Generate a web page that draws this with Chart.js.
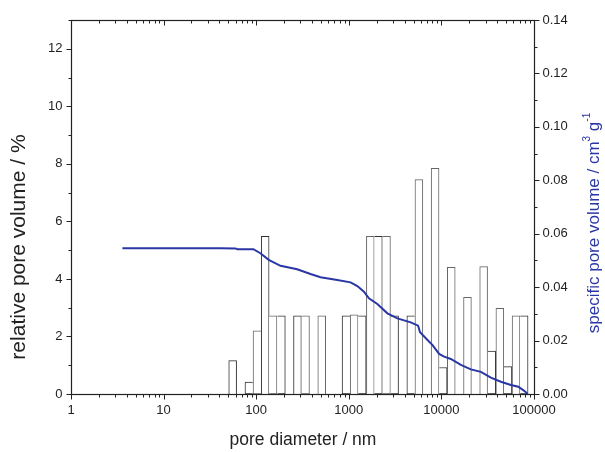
<!DOCTYPE html>
<html>
<head>
<meta charset="utf-8">
<script src="https://cdn.jsdelivr.net/npm/chart.js@4.4.1/dist/chart.umd.min.js"></script>
<style>
  html, body { margin: 0; padding: 0; background: #fff; }
  #wrap { width: 605px; height: 452px; }
</style>
</head>
<body>
<div id="wrap"><canvas id="poreChart" width="605" height="452"></canvas></div>
<script>
// histogram: bin centres (nm) and relative pore volume (%)
const binDiameter = [55.7, 68.2, 83.4, 102, 125, 152, 187, 228, 279, 341, 417, 510, 624, 763, 933,
  1142, 1396, 1708, 2089, 2554, 3124, 3820, 4672, 5714, 6988, 8547, 10450, 12780, 15630, 19120,
  23380, 28590, 34970, 42770, 52310, 63970, 78240];
const binPercent = [1.16, 0, 0.41, 2.20, 5.48, 2.72, 2.72, 0, 2.72, 2.72, 0, 2.72, 0, 0, 2.72,
  2.75, 2.72, 5.48, 5.48, 5.48, 2.72, 0, 2.72, 7.45, 0, 7.84, 0.92, 4.40, 0, 3.36,
  0, 4.43, 1.49, 2.98, 0.95, 2.72, 2.72];

// cumulative curve: diameter (nm) and specific pore volume (cm3/g)
const cumDiameter = [3.59, 41, 59.6, 62.6, 93.3, 111, 136.5, 183, 277, 386, 495, 751, 1045, 1236,
  1457, 1650, 2034, 2611, 3350, 4665, 5600, 5880, 7080, 8020, 9450, 10700, 12640, 16230, 20800,
  26700, 34200, 43900, 56300, 67600, 78500, 85500];
const cumVolume = [0.0546, 0.0546, 0.0545, 0.0542, 0.0542, 0.0527, 0.0502, 0.0480, 0.0467, 0.0449,
  0.0437, 0.0427, 0.0418, 0.0404, 0.0383, 0.0358, 0.0337, 0.0302, 0.0283, 0.0268, 0.0256, 0.0231,
  0.0202, 0.0183, 0.0150, 0.0140, 0.0131, 0.0109, 0.0092, 0.0083, 0.0061, 0.0046, 0.0034, 0.0027,
  0.0012, 0.0];

// tick labels
const xTickLabels = [1, 10, 100, 1000, 10000, 100000];
const yTickLabels = [0, 2, 4, 6, 8, 10, 12];
const y2TickLabels = [0, 0.02, 0.04, 0.06, 0.08, 0.10, 0.12, 0.14];

const INK = '#222';
const BLUE = '#2a36a4';
const FONT = '"Liberation Sans", Arial, sans-serif';

// shared edges between neighbouring bars get drawn only once
function skipSide(i) {
  const v = binPercent[i];
  const prev = i > 0 ? binPercent[i - 1] : 0;
  const next = i < binPercent.length - 1 ? binPercent[i + 1] : 0;
  if (prev > 0 && prev >= v) return 'left';
  if (next > v) return 'right';
  return 'start';
}

function line(ctx, x1, y1, x2, y2) {
  ctx.beginPath();
  ctx.moveTo(x1, y1);
  ctx.lineTo(x2, y2);
  ctx.stroke();
}

const axesPlugin = {
  id: 'originAxes',
  afterDraw(chart) {
    const { ctx, chartArea: a, scales: { x, y, y2 } } = chart;
    const L = Math.round(a.left) + 0.5, R = Math.round(a.right) + 0.5;
    const T = Math.round(a.top) + 0.5, B = Math.round(a.bottom) + 0.5;
    ctx.save();
    ctx.strokeStyle = INK;
    ctx.lineWidth = 1.2;
    ctx.strokeRect(L, T, R - L, B - T);

    // x ticks: bottom outward, top inward
    ctx.lineWidth = 1;
    for (let d = 0; d < xTickLabels.length; d++) {
      const dec = xTickLabels[d];
      for (let m = 1; m <= 9; m++) {
        const v = dec * m;
        if (v > 100000) break;
        const px = Math.round(x.getPixelForValue(v)) + 0.5;
        const len = m === 1 ? 5 : 3;
        line(ctx, px, B, px, B + len);
        line(ctx, px, T, px, T + len);
      }
    }
    // left ticks (outward), minor at odd values
    for (let v = 0; v <= 13; v++) {
      const py = Math.round(y.getPixelForValue(v)) + 0.5;
      line(ctx, L - (v % 2 === 0 ? 5 : 3), py, L, py);
    }
    // right ticks (outward), minor every 0.01
    for (let k = 0; k <= 14; k++) {
      const py = Math.round(y2.getPixelForValue(k / 100)) + 0.5;
      line(ctx, R, py, R + (k % 2 === 0 ? 5 : 3), py);
    }

    // tick labels
    ctx.fillStyle = INK;
    ctx.font = '13px ' + FONT;
    ctx.textBaseline = 'middle';
    ctx.textAlign = 'center';
    xTickLabels.forEach(v => ctx.fillText(String(v), x.getPixelForValue(v), B + 16));
    ctx.textAlign = 'right';
    yTickLabels.forEach(v => ctx.fillText(String(v), L - 9, y.getPixelForValue(v)));
    ctx.textAlign = 'left';
    y2TickLabels.forEach(v => ctx.fillText(v.toFixed(2), R + 8, y2.getPixelForValue(v)));

    // axis titles
    ctx.textAlign = 'center';
    ctx.font = '17.5px ' + FONT;
    ctx.fillText('pore diameter / nm', (L + R) / 2, 440);

    ctx.save();
    ctx.translate(19, 247);
    ctx.rotate(-Math.PI / 2);
    ctx.font = '21px ' + FONT;
    ctx.fillText('relative pore volume / %', 0, 0);
    ctx.restore();

    // right title with superscripts
    ctx.save();
    ctx.translate(594, 223);
    ctx.rotate(-Math.PI / 2);
    ctx.fillStyle = BLUE;
    ctx.textAlign = 'left';
    const big = '17px ' + FONT, small = '10px ' + FONT;
    const parts = [['specific pore volume / cm', big, 0], ['3', small, -7], [' g', big, 0], ['-1', small, -7]];
    let total = 0;
    parts.forEach(p => { ctx.font = p[1]; total += ctx.measureText(p[0]).width; });
    let cx = -total / 2;
    parts.forEach(p => {
      ctx.font = p[1];
      ctx.fillText(p[0], cx, p[2]);
      cx += ctx.measureText(p[0]).width;
    });
    ctx.restore();
    ctx.restore();
  }
};

new Chart(document.getElementById('poreChart'), {
  type: 'bar',
  data: {
    datasets: [
      {
        type: 'line',
        data: cumDiameter.map((d, i) => ({ x: d, y: cumVolume[i] })),
        yAxisID: 'y2',
        borderColor: BLUE,
        borderWidth: 2,
        pointRadius: 0,
        tension: 0,
        order: 0
      },
      {
        type: 'bar',
        data: binDiameter.map((d, i) => ({ x: d, y: binPercent[i] })),
        yAxisID: 'y',
        backgroundColor: '#ffffff',
        borderColor: binPercent.map((v, i) => (i % 2 ? '#666666' : '#303030')),
        borderWidth: 1,
        borderSkipped: ctx => skipSide(ctx.dataIndex),
        barPercentage: 1,
        categoryPercentage: 1,
        order: 1
      }
    ]
  },
  options: {
    responsive: false,
    animation: false,
    devicePixelRatio: 1,
    layout: { padding: { top: 20 } },
    plugins: { legend: { display: false }, tooltip: { enabled: false } },
    scales: {
      x: {
        type: 'logarithmic', min: 1, max: 100000, offset: false,
        grid: { display: false }, border: { display: false }, ticks: { display: false },
        afterBuildTicks: s => { s.ticks = xTickLabels.map(v => ({ value: v })); },
        afterFit: s => { s.height = 58; }
      },
      y: {
        position: 'left', min: 0, max: 13,
        grid: { display: false }, border: { display: false }, ticks: { display: false },
        afterFit: s => { s.width = 71; }
      },
      y2: {
        position: 'right', min: 0, max: 0.14,
        grid: { display: false }, border: { display: false }, ticks: { display: false },
        afterFit: s => { s.width = 71; }
      }
    }
  },
  plugins: [axesPlugin]
});
</script>
</body>
</html>
